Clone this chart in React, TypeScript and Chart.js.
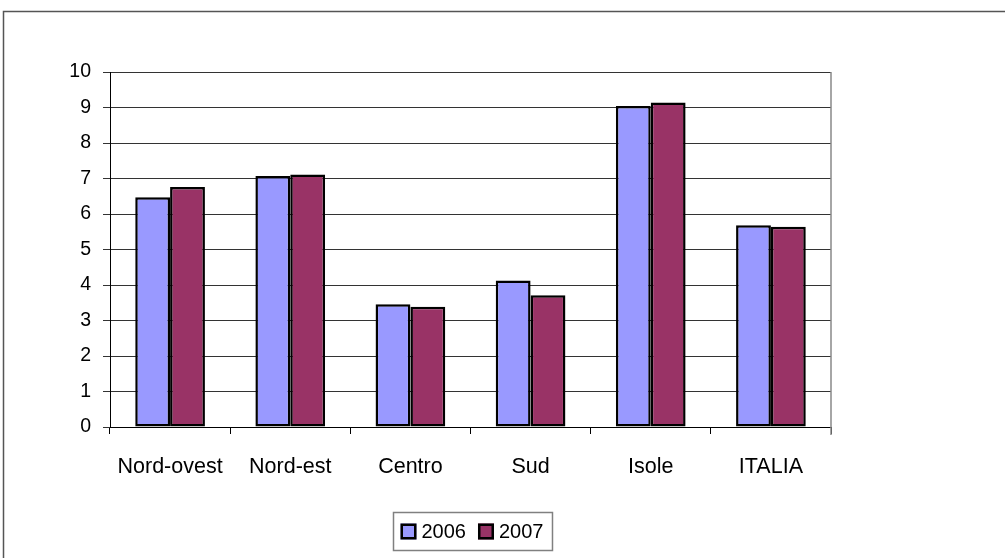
import React, { useEffect, useRef } from "react";
import { Chart, registerables } from "chart.js";

Chart.register(...registerables);

const categories = ["Nord-ovest", "Nord-est", "Centro", "Sud", "Isole", "ITALIA"];
const series2006 = [6.47, 7.07, 3.46, 4.13, 9.04, 5.68];
const series2007 = [6.76, 7.11, 3.39, 3.71, 9.14, 5.64];
const seriesLabels = ["2006", "2007"];
const yTicks = [0, 1, 2, 3, 4, 5, 6, 7, 8, 9, 10];

const FONT = "'Liberation Sans', Arial, sans-serif";

const framePlugin = {
  id: "frame",
  beforeDraw(chart: any) {
    const ctx = chart.ctx;
    ctx.save();
    ctx.fillStyle = "#ffffff";
    ctx.fillRect(0, 0, chart.width, chart.height);
    ctx.strokeStyle = "#555555";
    ctx.lineWidth = 1.5;
    ctx.strokeRect(3.5, 11.5, chart.width + 20, chart.height + 20);
    ctx.restore();
  },
  afterDraw(chart: any) {
    const ctx = chart.ctx;
    const a = chart.chartArea;
    ctx.save();
    // right border of plot area
    ctx.strokeStyle = "#888888";
    ctx.lineWidth = 1.5;
    ctx.beginPath();
    ctx.moveTo(a.right, a.top);
    ctx.lineTo(a.right, a.bottom + 8);
    ctx.stroke();

    // legend
    const ds = chart.data.datasets;
    ctx.font = `20px ${FONT}`;
    ctx.textBaseline = "middle";
    const sw = 16;
    const padL = 7;
    const padR = 9;
    const gapSw = 5;
    const gapItem = 12;
    let w = padL + padR;
    ds.forEach((d: any, i: number) => {
      w += sw + gapSw + ctx.measureText(d.label).width;
      if (i < ds.length - 1) w += gapItem;
    });
    const h = 38;
    const cx = (a.left + a.right) / 2 + 2;
    const x0 = Math.round(cx - w / 2) + 0.5;
    const y0 = 512.5;
    ctx.strokeStyle = "#808080";
    ctx.lineWidth = 1.5;
    ctx.strokeRect(x0, y0, w, h);
    let x = x0 + padL;
    const cy = y0 + h / 2;
    ds.forEach((d: any) => {
      ctx.fillStyle = d.backgroundColor;
      ctx.fillRect(x, cy - sw / 2, sw, sw);
      ctx.strokeStyle = "#000000";
      ctx.lineWidth = 2.5;
      ctx.strokeRect(x + 1.25, cy - sw / 2 + 1.25, sw - 2.5, sw - 2.5);
      x += sw + gapSw;
      ctx.fillStyle = "#000000";
      ctx.textAlign = "left";
      ctx.fillText(d.label, x, cy + 1);
      x += ctx.measureText(d.label).width + gapItem;
    });
    ctx.restore();
  },
};

export default function App() {
  const ref = useRef<HTMLCanvasElement | null>(null);

  useEffect(() => {
    document.body.style.margin = "0";
    if (!ref.current) return;
    const chart = new Chart(ref.current, {
      type: "bar",
      data: {
        labels: categories,
        datasets: [
          {
            label: seriesLabels[0],
            data: series2006,
            backgroundColor: "#9999FF",
            borderColor: "#000000",
            borderWidth: 2.5,
            borderSkipped: false,
            categoryPercentage: 0.58,
            barPercentage: 1.0,
          },
          {
            label: seriesLabels[1],
            data: series2007,
            backgroundColor: "#993366",
            borderColor: "#000000",
            borderWidth: 2.5,
            borderSkipped: false,
            categoryPercentage: 0.58,
            barPercentage: 1.0,
          },
        ],
      },
      options: {
        animation: false,
        responsive: true,
        maintainAspectRatio: false,
        layout: { padding: { left: 0, top: 72, right: 174, bottom: 71 } },
        plugins: {
          legend: { display: false },
          tooltip: { enabled: false },
        },
        scales: {
          x: {
            offset: true,
            grid: {
              display: true,
              offset: true,
              drawOnChartArea: false,
              drawTicks: true,
              tickLength: 7,
              color: "#000000",
              lineWidth: 1,
            },
            border: { display: true, color: "#000000", width: 1 },
            ticks: {
              color: "#000000",
              font: { family: FONT, size: 21.5 },
              padding: 20,
              maxRotation: 0,
              autoSkip: false,
            },
            afterFit(scale: any) {
              scale.height = 60;
            },
          },
          y: {
            min: 0,
            max: 10,
            afterBuildTicks(scale: any) {
              scale.ticks = yTicks.map((v) => ({ value: v }));
            },
            grid: {
              display: true,
              drawTicks: true,
              tickLength: 7,
              color: "#333333",
              lineWidth: 1,
            },
            border: { display: true, color: "#000000", width: 1 },
            ticks: {
              color: "#000000",
              font: { family: FONT, size: 19.5 },
              padding: 12,
            },
            afterFit(scale: any) {
              scale.width = 110;
            },
          },
        },
      },
      plugins: [framePlugin],
    });
    return () => chart.destroy();
  }, []);

  return (
    <div style={{ position: "fixed", left: 0, top: 0, width: 1005, height: 558 }}>
      <canvas ref={ref} />
    </div>
  );
}
